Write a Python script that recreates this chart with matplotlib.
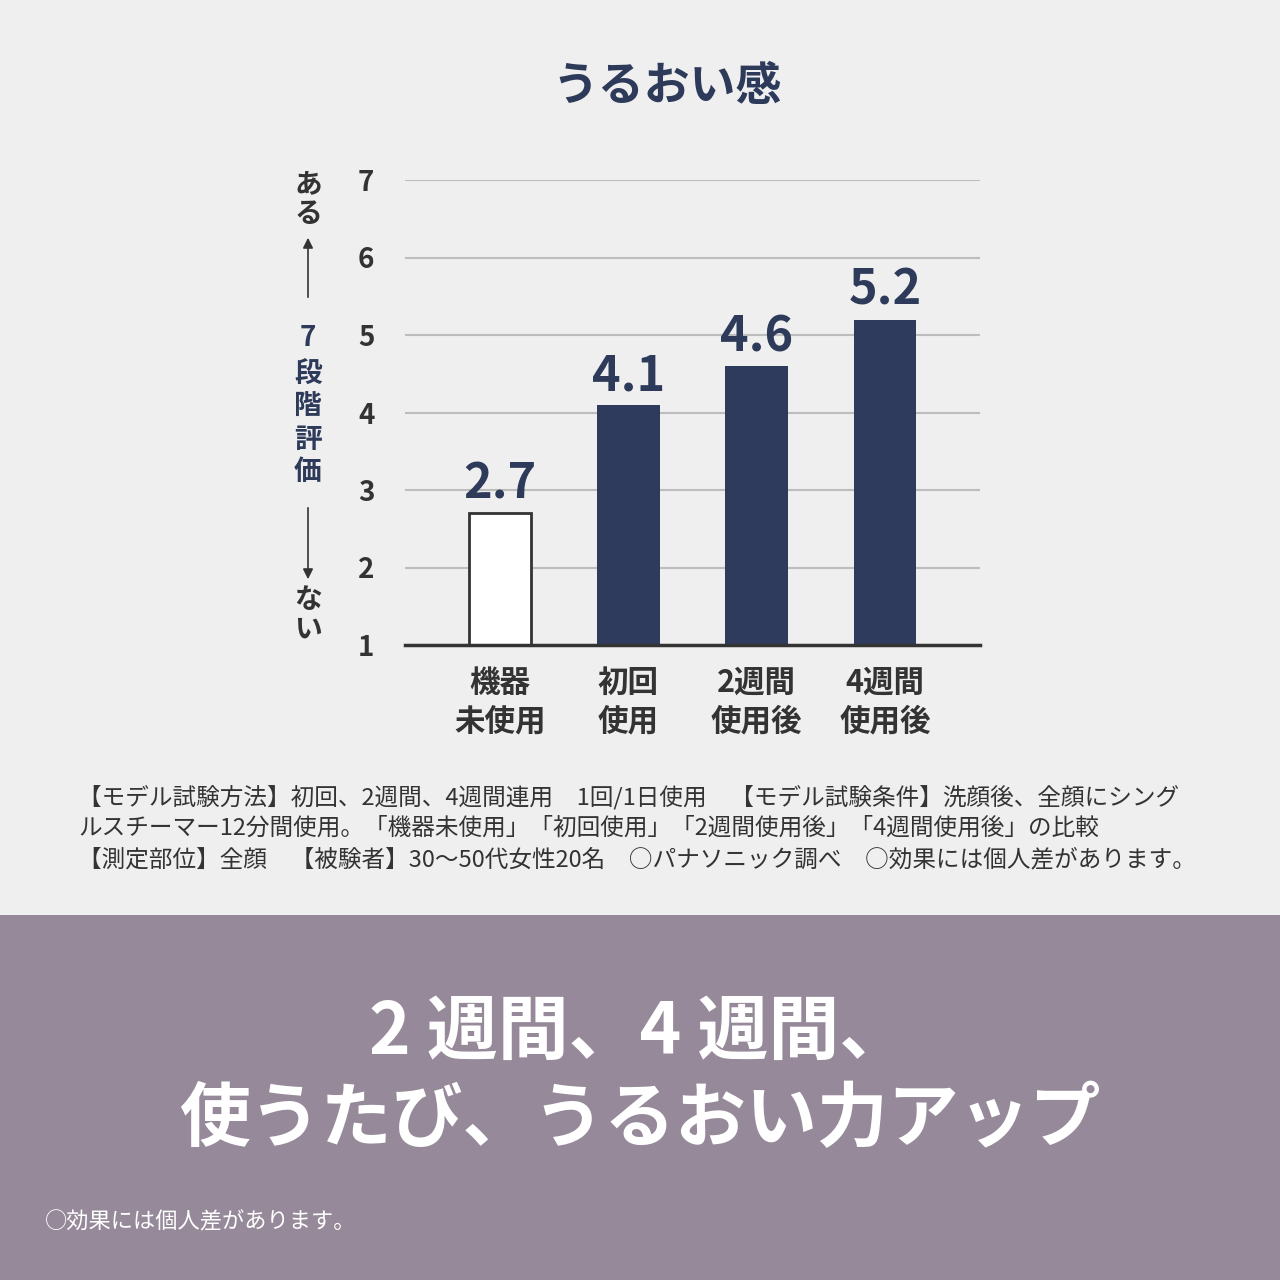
import matplotlib
matplotlib.use("Agg")
import matplotlib.pyplot as plt
from matplotlib.patches import Rectangle, FancyArrowPatch

plt.rcParams['font.family'] = ['Noto Sans CJK JP', 'DejaVu Sans']

# データ
categories = ["機器\n未使用", "初回\n使用", "2週間\n使用後", "4週間\n使用後"]
scores = [2.7, 4.1, 4.6, 5.2]
score_labels = ["2.7", "4.1", "4.6", "5.2"]
bar_colors = ["#ffffff", "#2f3b5c", "#2f3b5c", "#2f3b5c"]
y_ticks = [1, 2, 3, 4, 5, 6, 7]

title = "うるおい感"
note_lines = [
    "【モデル試験方法】初回、2週間、4週間連用　1回/1日使用　【モデル試験条件】洗顔後、全顔にシング",
    "ルスチーマー12分間使用。「機器未使用」「初回使用」「2週間使用後」「4週間使用後」の比較",
    "【測定部位】全顔　【被験者】30～50代女性20名　○パナソニック調べ　○効果には個人差があります。",
]
headline = ["2 週間、4 週間、", "使うたび、うるおい力アップ"]
footnote = "○効果には個人差があります。"

navy = "#2d3a5a"
dark = "#333333"
bg = "#efefef"
band = "#968a9a"

fig = plt.figure(figsize=(12.8, 12.8), dpi=100)
fig.patch.set_facecolor(bg)

# 下部の帯
fig.patches.append(Rectangle((0, 0), 1, 365 / 1280, transform=fig.transFigure,
                             facecolor=band, edgecolor="none", zorder=0))

ax = fig.add_axes([405 / 1280, 635 / 1280, 575 / 1280, 465 / 1280])
ax.set_facecolor(bg)

x = range(len(categories))
ax.bar(x, [s - 1 for s in scores], bottom=1, width=0.49,
       color=bar_colors, edgecolor=[dark, "none", "none", "none"],
       linewidth=2, zorder=3)

for xi, s, lab in zip(x, scores, score_labels):
    ax.text(xi, s + 0.06, lab, ha="center", va="bottom", fontsize=35,
            fontweight="bold", color=navy)

ax.set_ylim(1, 7)
ax.set_xlim(-0.74, 3.74)
ax.set_yticks(y_ticks)
ax.set_yticklabels([str(t) for t in y_ticks], fontsize=20, color=dark,
                   fontweight="bold")
ax.set_xticks(list(x))
ax.set_xticklabels(categories, fontsize=22, color=dark, fontweight="bold",
                   linespacing=1.25)
ax.tick_params(axis="both", length=0)
ax.tick_params(axis="y", pad=22)
ax.tick_params(axis="x", pad=16)
ax.yaxis.grid(True, color="#bdbdbd", linewidth=1.5, zorder=0)
for sp in ["top", "right", "left"]:
    ax.spines[sp].set_visible(False)
ax.spines["bottom"].set_color(dark)
ax.spines["bottom"].set_linewidth(2.5)
ax.spines["bottom"].set_zorder(4)

# 縦の軸ラベル
lx = 308 / 1280
def fy(py):
    return 1 - py / 1280

for ch, py in [("あ", 184), ("る", 214)]:
    fig.text(lx, fy(py), ch, ha="center", va="center", fontsize=20,
             color=dark, fontweight="bold")
for ch, py in [("7", 338), ("段", 375), ("階", 407), ("評", 440), ("価", 472)]:
    fig.text(lx, fy(py), ch, ha="center", va="center", fontsize=20,
             color=navy, fontweight="bold")
for ch, py in [("な", 600), ("い", 630)]:
    fig.text(lx, fy(py), ch, ha="center", va="center", fontsize=20,
             color=dark, fontweight="bold")
fig.patches.append(FancyArrowPatch(
    (lx, fy(300)), (lx, fy(235)), transform=fig.transFigure,
    arrowstyle="-|>,head_length=6,head_width=3", color=dark, linewidth=1.2))
fig.patches.append(FancyArrowPatch(
    (lx, fy(505)), (lx, fy(582)), transform=fig.transFigure,
    arrowstyle="-|>,head_length=6,head_width=3", color=dark, linewidth=1.2))

# タイトル
fig.text(667 / 1280, fy(87), title, ha="center", va="center", fontsize=33,
         fontweight="bold", color=navy)

# 注記
for i, line in enumerate(note_lines):
    fig.text(78 / 1280, fy(797 + 31.5 * i), line, ha="left", va="center",
             fontsize=17, color=dark)

# 見出し
fig.text(0.5, fy(1033), headline[0], ha="center", va="center", fontsize=51,
         fontweight="bold", color="white")
fig.text(0.5, fy(1120), headline[1], ha="center", va="center", fontsize=51,
         fontweight="bold", color="white")
fig.text(45 / 1280, fy(1222), footnote, ha="left", va="center", fontsize=16,
         color="white")

plt.savefig("out.png", dpi=100, facecolor=fig.get_facecolor())
